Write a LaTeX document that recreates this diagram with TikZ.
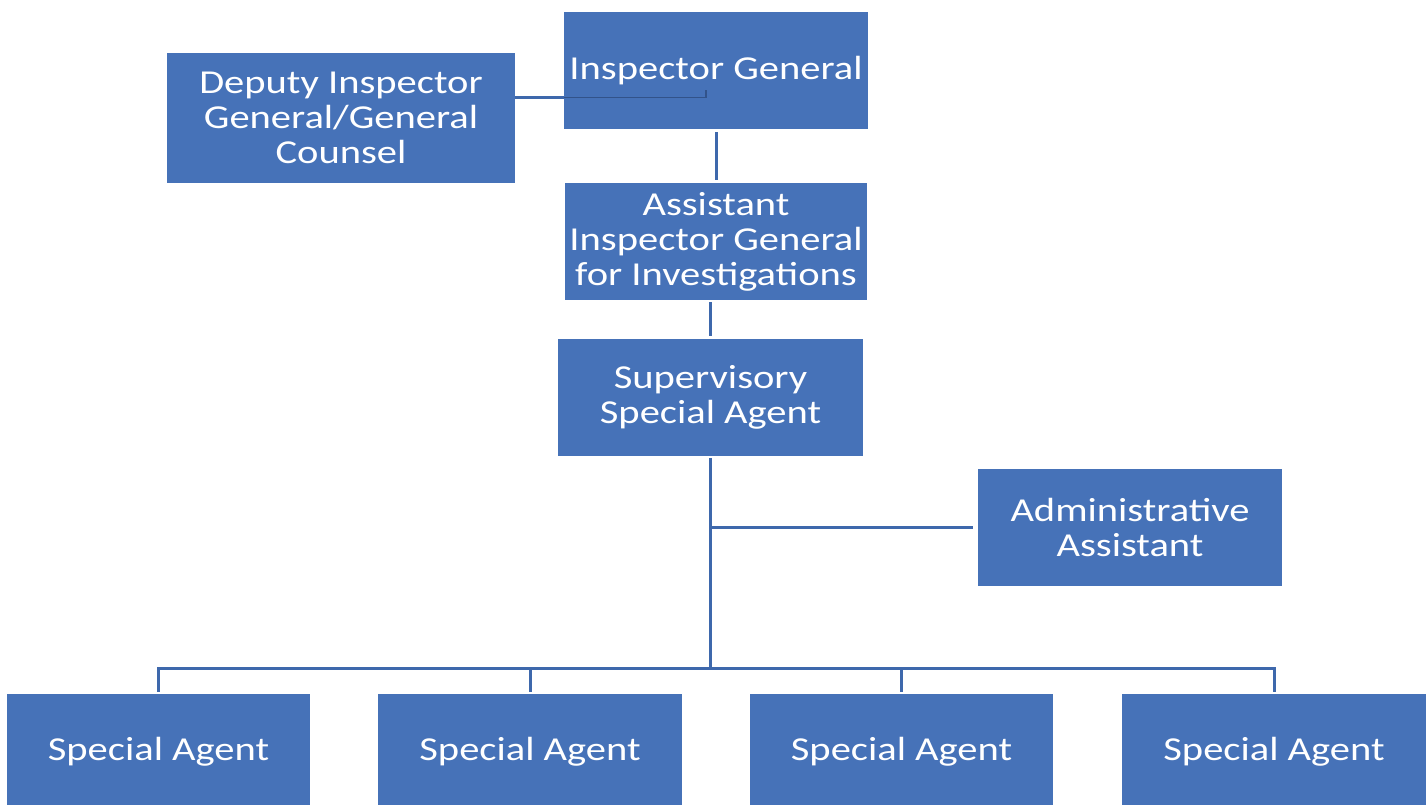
\documentclass[tikz,border=0pt]{standalone}
\usepackage{fontspec}
\newfontfamily\boxfont[FakeStretch=1.21]{Carlito}
\definecolor{boxblue}{RGB}{70,114,184}
\definecolor{lineblue}{RGB}{62,104,172}
\begin{document}
\begin{tikzpicture}[x=1bp,y=-1bp,
  orgbox/.style={fill=boxblue, draw=none, text=white, align=center, inner sep=0pt,
    font=\boxfont\fontsize{33.5bp}{35bp}\selectfont},
  conn/.style={draw=lineblue, line width=3bp},
  thin/.style={draw=lineblue!80!black, line width=1.2bp}]
\useasboundingbox (0,0) rectangle (1428,804);
\fill[white] (0,0) rectangle (1428,804);
% boxes
\node[orgbox, minimum width=304bp, minimum height=117bp] (ig) at (716,70.5) {Inspector General};
\node[orgbox, minimum width=348bp, minimum height=130bp] (dep) at (341,118) {Deputy Inspector\\General/General\\Counsel};
\node[orgbox, minimum width=302bp, minimum height=117bp] (aig) at (716,241.5) {Assistant\\Inspector General\\for Investigations};
\node[orgbox, minimum width=305bp, minimum height=117bp] (ssa) at (710.5,397.5) {Supervisory\\Special Agent};
\node[orgbox, minimum width=304bp, minimum height=117bp] (adm) at (1130,527.5) {Administrative\\Assistant};
\node[orgbox, minimum width=303bp, minimum height=116bp] (sa1) at (158.5,752) {Special Agent};
\node[orgbox, minimum width=304bp, minimum height=116bp] (sa2) at (530,752) {Special Agent};
\node[orgbox, minimum width=303bp, minimum height=116bp] (sa3) at (901.5,752) {Special Agent};
\node[orgbox, minimum width=304bp, minimum height=116bp] (sa4) at (1274,752) {Special Agent};
% connector coordinates
\coordinate (depout) at (515,97.5);
\coordinate (igin) at (706,97.5);
\coordinate (igtick) at (706,90);
\coordinate (bus) at (710.5,668);
% connectors
\draw[conn] (depout) -- (ig.west |- depout);
\draw[thin] (ig.west |- depout) -- (igin) -- (igtick);
\draw[conn, shorten <=3bp, shorten >=3bp] (ig.south) -- (aig.north);
\draw[conn, shorten <=2bp, shorten >=3bp] (ssa.north |- aig.south) -- (ssa.north);
\draw[conn, shorten <=2bp] (ssa.south) -- (bus);
\draw[conn, shorten >=5bp] (ssa.south |- adm.west) -- (adm.west);
\draw[conn, shorten <=2bp, shorten >=2bp] (sa1.north) -- (sa1.north |- bus) -- (sa4.north |- bus) -- (sa4.north);
\draw[conn, shorten >=2bp] (sa2.north |- bus) -- (sa2.north);
\draw[conn, shorten >=2bp] (sa3.north |- bus) -- (sa3.north);
\end{tikzpicture}
\end{document}
